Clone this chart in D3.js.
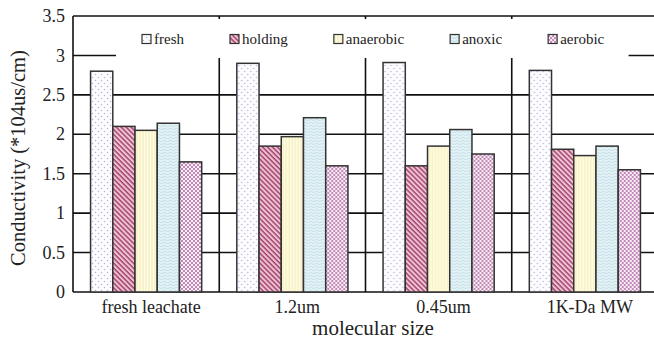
<!DOCTYPE html>
<html>
<head>
<meta charset="utf-8">
<script src="https://cdn.jsdelivr.net/npm/d3@7"></script>
<style>
  body { margin: 0; background: #fff; }
  svg { display: block; }
  svg text { font-family: "Liberation Serif", "Times New Roman", Times, "DejaVu Serif", serif; }
</style>
</head>
<body>
<div id="chart"></div>
<script>
// data
var categories = ["fresh leachate", "1.2um", "0.45um", "1K-Da MW"];
var seriesNames = ["fresh", "holding", "anaerobic", "anoxic", "aerobic"];
var fresh     = [2.80, 2.90, 2.91, 2.81];
var holding   = [2.10, 1.85, 1.60, 1.81];
var anaerobic = [2.05, 1.97, 1.85, 1.73];
var anoxic    = [2.14, 2.21, 2.06, 1.85];
var aerobic   = [1.65, 1.60, 1.75, 1.55];
var yTicks = [0, 0.5, 1, 1.5, 2, 2.5, 3, 3.5];

var seriesValues = [fresh, holding, anaerobic, anoxic, aerobic];

function makeBarChart(div_id, pWidth, pHeight) {

  var margin = {top: 16, right: -4, bottom: 50, left: 73};
  var width = pWidth - margin.left - margin.right;
  var height = pHeight - margin.top - margin.bottom;

  var root = d3.select("#" + div_id).append("svg")
    .attr("width", pWidth)
    .attr("height", pHeight);

  // fill patterns
  var defs = root.append("defs");

  var pFresh = defs.append("pattern").attr("id", "p-fresh")
    .attr("patternUnits", "userSpaceOnUse").attr("width", 6).attr("height", 6);
  pFresh.append("rect").attr("width", 6).attr("height", 6).attr("fill", "#fdfcff");
  pFresh.append("circle").attr("cx", 1.5).attr("cy", 1.5).attr("r", 0.75).attr("fill", "#bcaedb");
  pFresh.append("circle").attr("cx", 4.5).attr("cy", 4.5).attr("r", 0.75).attr("fill", "#bcaedb");

  var pHolding = defs.append("pattern").attr("id", "p-holding")
    .attr("patternUnits", "userSpaceOnUse").attr("width", 3.5).attr("height", 3.5)
    .attr("patternTransform", "rotate(-45)");
  pHolding.append("rect").attr("width", 3.5).attr("height", 3.5).attr("fill", "#eec4d4");
  pHolding.append("line").attr("x1", 1).attr("y1", 0).attr("x2", 1).attr("y2", 3.5)
    .attr("stroke", "#a03a68").attr("stroke-width", 1.4);

  var pAnaerobic = defs.append("pattern").attr("id", "p-anaerobic")
    .attr("patternUnits", "userSpaceOnUse").attr("width", 3).attr("height", 3);
  pAnaerobic.append("rect").attr("width", 3).attr("height", 3).attr("fill", "#fffdea");
  pAnaerobic.append("line").attr("x1", 1).attr("y1", 0).attr("x2", 1).attr("y2", 3)
    .attr("stroke", "#f0e5a4").attr("stroke-width", 0.9);

  var pAnoxic = defs.append("pattern").attr("id", "p-anoxic")
    .attr("patternUnits", "userSpaceOnUse").attr("width", 6).attr("height", 3);
  pAnoxic.append("rect").attr("width", 6).attr("height", 3).attr("fill", "#e6f3f6");
  pAnoxic.append("path").attr("d", "M0,2 Q1.5,0.5 3,2 T6,2")
    .attr("fill", "none").attr("stroke", "#b3d8e2").attr("stroke-width", 0.8);

  var pAerobic = defs.append("pattern").attr("id", "p-aerobic")
    .attr("patternUnits", "userSpaceOnUse").attr("width", 4).attr("height", 4);
  pAerobic.append("rect").attr("width", 4).attr("height", 4).attr("fill", "#fbeef5");
  pAerobic.append("circle").attr("cx", 1).attr("cy", 1).attr("r", 0.9).attr("fill", "#a35a9c");
  pAerobic.append("circle").attr("cx", 3).attr("cy", 3).attr("r", 0.9).attr("fill", "#a35a9c");

  var fills = seriesNames.map(function(s) { return "url(#p-" + s + ")"; });

  var svg = root.append("g")
    .attr("transform", "translate(" + margin.left + "," + margin.top + ")");

  // scales
  var x0 = d3.scaleBand().domain(categories).range([0, width]).padding(0);
  var x1 = d3.scaleBand().domain(seriesNames).range([0, x0.bandwidth()])
    .paddingInner(0).paddingOuter(0.79);
  var y = d3.scaleLinear().domain([0, 3.5]).range([height, 0]);

  // horizontal grid
  svg.append("g").attr("class", "grid")
    .selectAll("line").data(yTicks).enter().append("line")
      .attr("x1", 0).attr("x2", width)
      .attr("y1", function(d) { return y(d); })
      .attr("y2", function(d) { return y(d); })
      .attr("stroke", "#111").attr("stroke-width", 1.6);

  // vertical separators
  svg.append("g").attr("class", "sep")
    .selectAll("line").data(categories).enter().append("line")
      .attr("x1", function(d) { return x0(d); })
      .attr("x2", function(d) { return x0(d); })
      .attr("y1", 0).attr("y2", height)
      .attr("stroke", "#111").attr("stroke-width", 1.6);

  // bars
  var groups = svg.append("g").attr("class", "bars")
    .selectAll("g").data(categories).enter().append("g")
      .attr("transform", function(d) { return "translate(" + x0(d) + ",0)"; });

  groups.selectAll("rect")
    .data(function(c, ci) {
      return seriesNames.map(function(s, si) { return {key: s, value: seriesValues[si][ci], i: si}; });
    })
    .enter().append("rect")
      .attr("x", function(d) { return x1(d.key); })
      .attr("y", function(d) { return y(d.value); })
      .attr("width", x1.bandwidth())
      .attr("height", function(d) { return height - y(d.value); })
      .attr("fill", function(d) { return fills[d.i]; })
      .attr("stroke", "#333").attr("stroke-width", 1.5);

  // y axis labels
  svg.append("g").attr("class", "yAxis")
    .selectAll("text").data(yTicks).enter().append("text")
      .attr("x", -8)
      .attr("y", function(d) { return y(d); })
      .attr("dy", "0.34em")
      .attr("text-anchor", "end")
      .attr("font-size", 18)
      .attr("fill", "#222")
      .text(function(d) { return d; });

  // category labels
  svg.append("g").attr("class", "xAxis")
    .selectAll("text").data(categories).enter().append("text")
      .attr("x", function(d) { return x0(d) + x0.bandwidth() / 2 + 5; })
      .attr("y", height + 21)
      .attr("text-anchor", "middle")
      .attr("font-size", 18)
      .attr("fill", "#222")
      .text(function(d) { return d; });

  // axis titles
  svg.append("text")
    .attr("x", 300).attr("y", height + 43)
    .attr("text-anchor", "middle")
    .attr("font-size", 21)
    .attr("fill", "#222")
    .text("molecular size");

  svg.append("text")
    .attr("transform", "translate(" + (25 - margin.left) + "," + (158 - margin.top) + ") rotate(-90)")
    .attr("text-anchor", "middle")
    .attr("font-size", 20.5)
    .attr("fill", "#222")
    .text("Conductivity (*104us/cm)");

  // legend
  var legendBg = svg.append("rect").attr("fill", "#fff");
  var legendGroup = svg.append("g")
    .attr("font-size", 15).attr("fill", "#222");

  var lx = 142 - margin.left;
  var ly = 39 - margin.top;
  seriesNames.forEach(function(s, i) {
    var item = legendGroup.append("g").attr("transform", "translate(" + lx + "," + ly + ")");
    item.append("rect")
      .attr("x", 0).attr("y", -4.5).attr("width", 9).attr("height", 9)
      .attr("fill", fills[i]).attr("stroke", "#333").attr("stroke-width", 1.2);
    var t = item.append("text").attr("x", 12).attr("dy", "0.33em").text(s);
    lx += 12 + t.node().getComputedTextLength() + 46;
  });

  var bb = legendGroup.node().getBBox();
  legendBg
    .attr("x", bb.x - 26).attr("y", 19 - margin.top)
    .attr("width", bb.width + 50).attr("height", 39);
}

makeBarChart("chart", 654, 342);
</script>
</body>
</html>
